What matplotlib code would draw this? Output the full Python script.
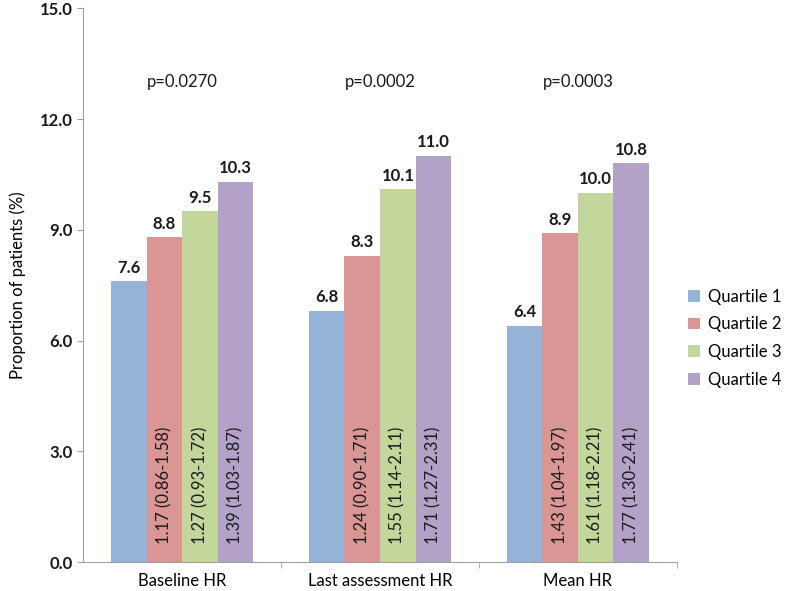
import numpy as np
import matplotlib.pyplot as plt

plt.rcParams['font.family'] = ['Lato', 'DejaVu Sans']

groups = ['Baseline HR', 'Last assessment HR', 'Mean HR']
quartiles = ['Quartile 1', 'Quartile 2', 'Quartile 3', 'Quartile 4']
q1 = [7.6, 6.8, 6.4]
q2 = [8.8, 8.3, 8.9]
q3 = [9.5, 10.1, 10.0]
q4 = [10.3, 11.0, 10.8]
hr_q2 = ['1.17 (0.86-1.58)', '1.24 (0.90-1.71)', '1.43 (1.04-1.97)']
hr_q3 = ['1.27 (0.93-1.72)', '1.55 (1.14-2.11)', '1.61 (1.18-2.21)']
hr_q4 = ['1.39 (1.03-1.87)', '1.71 (1.27-2.31)', '1.77 (1.30-2.41)']
p_values = ['p=0.0270', 'p=0.0002', 'p=0.0003']

colors = ['#95B3D7', '#D99694', '#C3D69B', '#B3A2C7']
series = [q1, q2, q3, q4]
hr_labels = [None, hr_q2, hr_q3, hr_q4]

fig = plt.figure(figsize=(8, 5.91), dpi=100)
ax = fig.add_axes([0.104, 0.049, 0.742, 0.937])

x = np.arange(len(groups))
width = 0.18
for i, (vals, col) in enumerate(zip(series, colors)):
    pos = x + (i - 1.5) * width
    ax.bar(pos, vals, width, color=col, label=quartiles[i])
    for xp, v in zip(pos, vals):
        ax.annotate(f'{v:.1f}', (xp, v), xytext=(0, 4), textcoords='offset points',
                    ha='center', va='bottom', fontsize=12, fontweight='bold', color='#1a1a1a')
    if hr_labels[i] is not None:
        for xp, t in zip(pos, hr_labels[i]):
            ax.text(xp, 0.5, t, rotation=90, ha='center', va='bottom',
                    fontsize=12, color='#1a1a1a')

for xi, p in zip(x, p_values):
    ax.text(xi, 13.0, p, ha='center', va='center', fontsize=12, color='#1a1a1a')

ax.set_xlim(-0.5, 2.5)
ax.set_ylim(0, 15)
ax.set_yticks(np.arange(0, 15.1, 3))
ax.set_yticklabels([f'{v:.1f}' for v in np.arange(0, 15.1, 3)], fontsize=12, fontweight='bold')
ax.set_xticks(x)
ax.set_xticklabels(groups, fontsize=12)
ax.tick_params(axis='x', length=0, pad=8)
ax.set_xticks([0.5, 1.5, 2.5], minor=True)
ax.tick_params(axis='x', which='minor', length=4, color='#a0a0a0')
ax.tick_params(axis='y', length=4, color='#a0a0a0', colors='#1a1a1a')
for s in ['top', 'right']:
    ax.spines[s].set_visible(False)
for s in ['left', 'bottom']:
    ax.spines[s].set_color('#a0a0a0')
ax.set_ylabel('Proportion of patients (%)', fontsize=12, labelpad=10)

ax.legend(loc='center left', bbox_to_anchor=(1.0, 0.404), frameon=False, fontsize=12,
          handlelength=0.7, handleheight=0.7, handletextpad=0.5, labelspacing=0.7,
          borderaxespad=0.3)

fig.savefig('out.png', dpi=100)
